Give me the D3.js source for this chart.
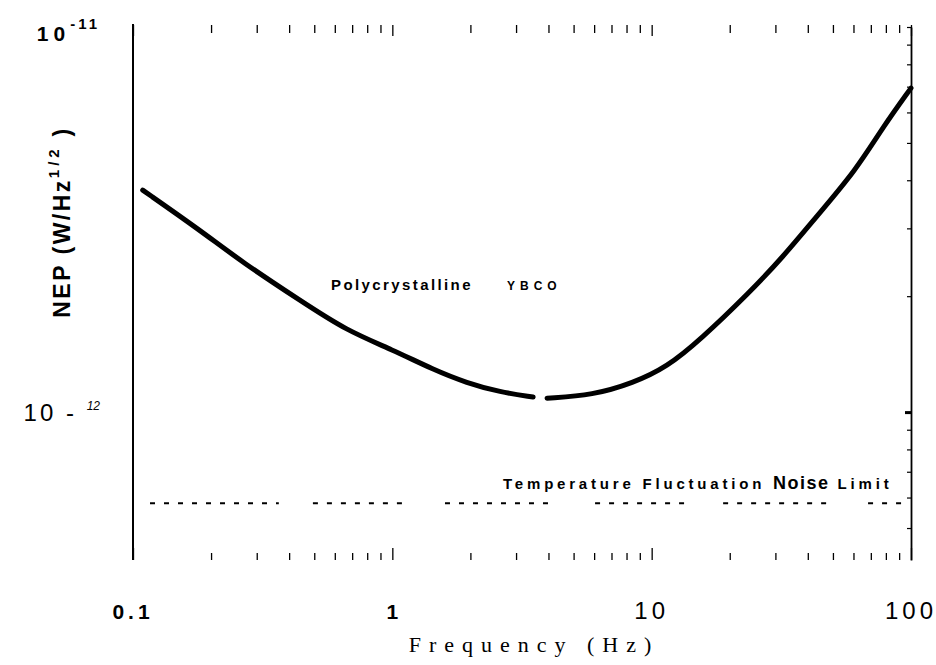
<!DOCTYPE html>
<html>
<head>
<meta charset="utf-8">
<script src="https://cdn.jsdelivr.net/npm/d3@7"></script>
<style>
  html, body { margin: 0; padding: 0; background: #fff; }
  svg { display: block; }
</style>
</head>
<body>
<div id="chart"></div>
<script>
// NEP vs frequency for polycrystalline YBCO
const freq = [0.109, 0.181, 0.266, 0.441, 0.663, 1.006, 1.435, 1.94, 2.60, 3.49, null, 3.95, 5.94, 8.48, 11.46, 15.37, 23.75, 32.1, 43.05, 61.4, 78.0, 100];
const nep = [3.77e-12, 2.97e-12, 2.44e-12, 1.95e-12, 1.63e-12, 1.45e-12, 1.29e-12, 1.19e-12, 1.127e-12, 1.094e-12, null, 1.087e-12, 1.107e-12, 1.19e-12, 1.31e-12, 1.54e-12, 2.04e-12, 2.53e-12, 3.21e-12, 4.25e-12, 5.50e-12, 6.94e-12];
// temperature fluctuation noise limit, drawn in dashed runs (Hz)
const noiseLimit = 5.8e-13;
const noiseRunStart = [0.1163, 0.494, 1.596, 6.05, 18.86, 68.3];
const noiseRunEnd = [0.365, 1.15, 4.24, 13.7, 50.9, 96.6];
const xDomain = [0.1, 100];
const yDomain = [4.13e-13, 1e-11];

const width = 936, height = 665;
const plotLeft = 133, plotRight = 911, plotTop = 27, plotBottom = 560;

const svg = d3.select('#chart').append('svg')
    .attr('width', width)
    .attr('height', height);

const x = d3.scaleLog().domain(xDomain).range([plotLeft, plotRight]);
const y = d3.scaleLog().domain(yDomain).range([plotBottom, plotTop]);

const isDecade = d => Math.abs(Math.log10(d) - Math.round(Math.log10(d))) < 1e-6;

// top ticks (pointing down), no line
const topAxis = svg.append('g')
    .attr('transform', `translate(0,${plotTop - 2})`)
    .call(d3.axisBottom(x).tickSize(8).tickFormat(''));
topAxis.select('.domain').remove();
topAxis.selectAll('.tick line')
    .attr('stroke-width', 1.3)
    .attr('y2', d => isDecade(d) ? 11 : 8);

// bottom ticks (pointing up), no line
const botAxis = svg.append('g')
    .attr('transform', `translate(0,${plotBottom})`)
    .call(d3.axisTop(x).tickSize(7).tickFormat(''));
botAxis.select('.domain').remove();
botAxis.selectAll('.tick line')
    .attr('stroke-width', 1.3)
    .attr('y2', d => isDecade(d) ? -12 : -7);

// left axis line only
svg.append('line')
    .attr('x1', plotLeft).attr('x2', plotLeft)
    .attr('y1', plotTop - 3).attr('y2', plotBottom)
    .attr('stroke', '#000').attr('stroke-width', 2);

// right axis with small ticks pointing in
const rightAxis = svg.append('g')
    .attr('transform', `translate(${plotRight},0)`)
    .call(d3.axisLeft(y).tickSize(4).tickSizeOuter(0).tickFormat(''));
rightAxis.select('.domain').attr('stroke-width', 1.8);
rightAxis.selectAll('.tick line')
    .attr('x2', d => Math.abs(d - 1e-12) < 1e-15 ? -6 : -4)
    .attr('stroke-width', d => Math.abs(d - 1e-12) < 1e-15 ? 3 : 1.2);

// noise limit dashed runs
svg.selectAll('.noise').data(noiseRunStart).enter().append('line')
    .attr('class', 'noise')
    .attr('x1', d => x(d))
    .attr('x2', (d, i) => x(noiseRunEnd[i]))
    .attr('y1', y(noiseLimit)).attr('y2', y(noiseLimit))
    .attr('stroke', '#000')
    .attr('stroke-width', 2)
    .attr('stroke-dasharray', '5,9');

// NEP curve
const pts = freq.map((f, i) => ({ f, v: nep[i] }));
const line = d3.line()
    .defined(d => d.f !== null)
    .x(d => x(d.f))
    .y(d => y(d.v))
    .curve(d3.curveBasis);
svg.append('path')
    .datum(pts)
    .attr('d', line)
    .attr('fill', 'none')
    .attr('stroke', '#000')
    .attr('stroke-width', 5)
    .attr('stroke-linecap', 'round');

// y tick labels
const yLab1 = svg.append('text')
    .attr('x', 100).attr('y', 41)
    .attr('text-anchor', 'end')
    .attr('font-family', 'Liberation Sans, Arial, sans-serif')
    .attr('font-weight', 'bold')
    .attr('font-size', 21);
yLab1.append('tspan').attr('letter-spacing', 5).text('10');
yLab1.append('tspan').attr('dy', -12).attr('font-size', 15).attr('letter-spacing', 3).text('-11');

const yLab2 = svg.append('text')
    .attr('x', 100).attr('y', 421)
    .attr('text-anchor', 'end')
    .attr('font-family', 'Liberation Sans, Arial, sans-serif')
    .attr('font-size', 24);
yLab2.append('tspan').attr('letter-spacing', 3).text('10 - ');
yLab2.append('tspan').attr('dy', -11).attr('font-size', 12).attr('font-style', 'italic').text('12');

// x tick labels
const xLabels = [
  { v: 0.1, t: '0.1', bold: true, size: 21, ls: 4 },
  { v: 1, t: '1', bold: true, size: 21, ls: 0 },
  { v: 10, t: '10', bold: false, size: 24, ls: 4 },
  { v: 100, t: '100', bold: false, size: 24, ls: 4 }
];
svg.selectAll('.xlab').data(xLabels).enter().append('text')
    .attr('class', 'xlab')
    .attr('x', d => x(d.v))
    .attr('y', 619)
    .attr('text-anchor', 'middle')
    .attr('font-family', 'Liberation Sans, Arial, sans-serif')
    .attr('font-weight', d => d.bold ? 'bold' : 'normal')
    .attr('font-size', d => d.size)
    .attr('letter-spacing', d => d.ls)
    .text(d => d.t);

// x title
svg.append('text')
    .attr('x', 534).attr('y', 652)
    .attr('text-anchor', 'middle')
    .attr('font-family', 'Liberation Serif, Times New Roman, serif')
    .attr('font-size', 22)
    .attr('letter-spacing', 8)
    .text('Frequency (Hz)');

// y title
const yTitle = svg.append('text')
    .attr('transform', 'translate(70,222) rotate(-90)')
    .attr('text-anchor', 'middle')
    .attr('font-family', 'Liberation Sans, Arial, sans-serif')
    .attr('font-weight', 'bold')
    .attr('font-size', 23)
    .attr('letter-spacing', 2.5);
yTitle.append('tspan').text('NEP (W/Hz');
yTitle.append('tspan').attr('dy', -11).attr('font-size', 15).attr('letter-spacing', 4).text('1/2');
yTitle.append('tspan').attr('dy', 11).text(' )');

// annotations
const ann1 = svg.append('text')
    .attr('x', 331).attr('y', 290)
    .attr('font-family', 'Liberation Sans, Arial, sans-serif')
    .attr('font-weight', 'bold')
    .attr('font-size', 15)
    .attr('letter-spacing', 2.4);
ann1.append('tspan').text('Polycrystalline');
ann1.append('tspan').attr('x', 507).attr('font-size', 12).attr('letter-spacing', 5).text('YBCO');

const ann2 = svg.append('text')
    .attr('x', 503).attr('y', 489)
    .attr('font-family', 'Liberation Sans, Arial, sans-serif')
    .attr('font-weight', 'bold')
    .attr('font-size', 15)
    .attr('letter-spacing', 3.8);
ann2.append('tspan').text('Temperature  Fluctuation  ');
ann2.append('tspan').attr('font-size', 18).attr('letter-spacing', 1.5).text('Noise');
ann2.append('tspan').text('  Limit');
</script>
</body>
</html>
